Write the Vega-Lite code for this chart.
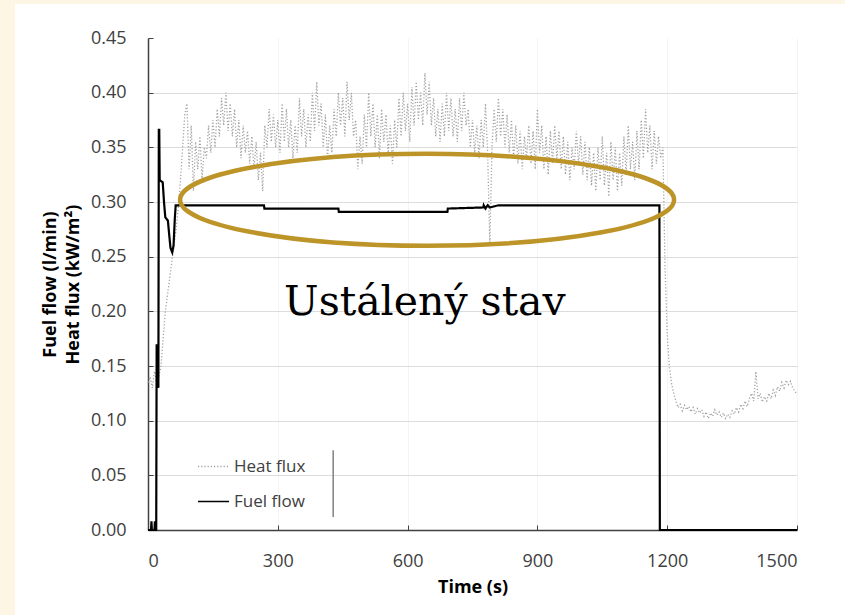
{
  "$schema": "https://vega.github.io/schema/vega-lite/v6.json",
  "width": 649,
  "height": 492,
  "autosize": {"type": "none"},
  "padding": {"left": 148, "top": 38, "right": 48, "bottom": 85},
  "background": "#FFFFFF",
  "config": {
    "view": {"stroke": null},
    "font": "Open Sans",
    "axis": {
      "domainColor": "#404040", "domainWidth": 1.5,
      "tickColor": "#404040", "tickSize": -5, "tickWidth": 1,
      "labelFont": "Open Sans", "labelFontSize": 18, "labelColor": "#404040",
      "titleFont": "Open Sans", "titleFontSize": 18, "titleFontWeight": "bold", "titleColor": "#000000",
      "gridColor": "#d9d9d9", "gridWidth": 1
    },
    "legend": {"orient": "none", "legendX": 49, "legendY": 412, "padding": 0, "labelFont": "Open Sans", "labelFontSize": 17, "labelColor": "#404040",
      "symbolType": "stroke", "symbolSize": 961, "symbolStrokeWidth": 1.6, "labelOffset": 4, "rowPadding": 10, "title": null}
  },
  "datasets": {
    "one": [{"k": 1}],
    "heat": [
      {"t":0,"v":0.135},{"t":5,"v":0.14},{"t":10,"v":0.13},{"t":15,"v":0.145},{"t":20,"v":0.135},{"t":25,"v":0.14},
      {"t":30,"v":0.15},{"t":35,"v":0.175},{"t":40,"v":0.2},{"t":45,"v":0.215},{"t":50,"v":0.23},{"t":55,"v":0.245},
      {"t":60,"v":0.26},{"t":65,"v":0.275},{"t":70,"v":0.295},{"t":75,"v":0.32},{"t":80,"v":0.35},{"t":85,"v":0.38},
      {"t":90,"v":0.39},{"t":95,"v":0.33},{"t":100,"v":0.37},{"t":105,"v":0.31},{"t":110,"v":0.355},{"t":115,"v":0.33},
      {"t":120,"v":0.36},{"t":125,"v":0.32},{"t":130,"v":0.35},{"t":135,"v":0.34},{"t":140,"v":0.37},{"t":145,"v":0.345},
      {"t":150,"v":0.375},{"t":155,"v":0.35},{"t":160,"v":0.385},{"t":165,"v":0.36},{"t":170,"v":0.395},{"t":175,"v":0.37},
      {"t":180,"v":0.4},{"t":185,"v":0.365},{"t":190,"v":0.39},{"t":195,"v":0.36},{"t":200,"v":0.385},{"t":205,"v":0.35},
      {"t":210,"v":0.375},{"t":215,"v":0.34},{"t":220,"v":0.37},{"t":225,"v":0.345},{"t":230,"v":0.365},{"t":235,"v":0.335},
      {"t":240,"v":0.36},{"t":245,"v":0.33},{"t":250,"v":0.355},{"t":255,"v":0.32},{"t":260,"v":0.345},{"t":265,"v":0.31},
      {"t":270,"v":0.37},{"t":275,"v":0.35},{"t":280,"v":0.385},{"t":285,"v":0.355},{"t":290,"v":0.38},{"t":295,"v":0.35},
      {"t":300,"v":0.375},{"t":305,"v":0.345},{"t":310,"v":0.39},{"t":315,"v":0.355},{"t":320,"v":0.385},{"t":325,"v":0.35},
      {"t":330,"v":0.375},{"t":335,"v":0.34},{"t":340,"v":0.37},{"t":345,"v":0.345},{"t":350,"v":0.395},{"t":355,"v":0.36},
      {"t":360,"v":0.385},{"t":365,"v":0.35},{"t":370,"v":0.38},{"t":375,"v":0.355},{"t":380,"v":0.4},{"t":385,"v":0.365},
      {"t":390,"v":0.41},{"t":395,"v":0.37},{"t":400,"v":0.39},{"t":405,"v":0.35},{"t":410,"v":0.38},{"t":415,"v":0.34},
      {"t":420,"v":0.37},{"t":425,"v":0.345},{"t":430,"v":0.385},{"t":435,"v":0.36},{"t":440,"v":0.4},{"t":445,"v":0.37},
      {"t":450,"v":0.395},{"t":455,"v":0.36},{"t":460,"v":0.41},{"t":465,"v":0.375},{"t":470,"v":0.4},{"t":475,"v":0.36},
      {"t":480,"v":0.375},{"t":485,"v":0.33},{"t":490,"v":0.36},{"t":495,"v":0.335},{"t":500,"v":0.38},{"t":505,"v":0.35},
      {"t":510,"v":0.4},{"t":515,"v":0.36},{"t":520,"v":0.39},{"t":525,"v":0.35},{"t":530,"v":0.38},{"t":535,"v":0.34},
      {"t":540,"v":0.385},{"t":545,"v":0.355},{"t":550,"v":0.38},{"t":555,"v":0.345},{"t":560,"v":0.37},{"t":565,"v":0.335},
      {"t":570,"v":0.375},{"t":575,"v":0.35},{"t":580,"v":0.395},{"t":585,"v":0.36},{"t":590,"v":0.4},{"t":595,"v":0.365},
      {"t":600,"v":0.39},{"t":605,"v":0.355},{"t":610,"v":0.405},{"t":615,"v":0.37},{"t":620,"v":0.41},{"t":625,"v":0.375},
      {"t":630,"v":0.4},{"t":635,"v":0.37},{"t":640,"v":0.418},{"t":645,"v":0.38},{"t":650,"v":0.41},{"t":655,"v":0.37},
      {"t":660,"v":0.395},{"t":665,"v":0.36},{"t":670,"v":0.385},{"t":675,"v":0.355},{"t":680,"v":0.39},{"t":685,"v":0.36},
      {"t":690,"v":0.4},{"t":695,"v":0.365},{"t":700,"v":0.395},{"t":705,"v":0.36},{"t":710,"v":0.385},{"t":715,"v":0.355},
      {"t":720,"v":0.395},{"t":725,"v":0.365},{"t":730,"v":0.4},{"t":735,"v":0.37},{"t":740,"v":0.385},{"t":745,"v":0.35},
      {"t":750,"v":0.375},{"t":755,"v":0.345},{"t":760,"v":0.37},{"t":765,"v":0.34},{"t":770,"v":0.375},{"t":775,"v":0.35},
      {"t":780,"v":0.39},{"t":785,"v":0.345},{"t":790,"v":0.26},{"t":795,"v":0.35},{"t":800,"v":0.385},{"t":805,"v":0.355},
      {"t":810,"v":0.395},{"t":815,"v":0.36},{"t":820,"v":0.385},{"t":825,"v":0.35},{"t":830,"v":0.38},{"t":835,"v":0.345},
      {"t":840,"v":0.375},{"t":845,"v":0.34},{"t":850,"v":0.37},{"t":855,"v":0.335},{"t":860,"v":0.365},{"t":865,"v":0.33},
      {"t":870,"v":0.36},{"t":875,"v":0.34},{"t":880,"v":0.37},{"t":885,"v":0.335},{"t":890,"v":0.365},{"t":895,"v":0.33},
      {"t":900,"v":0.385},{"t":905,"v":0.345},{"t":910,"v":0.37},{"t":915,"v":0.33},{"t":920,"v":0.36},{"t":925,"v":0.325},
      {"t":930,"v":0.365},{"t":935,"v":0.335},{"t":940,"v":0.37},{"t":945,"v":0.34},{"t":950,"v":0.365},{"t":955,"v":0.33},
      {"t":960,"v":0.36},{"t":965,"v":0.325},{"t":970,"v":0.355},{"t":975,"v":0.32},{"t":980,"v":0.35},{"t":985,"v":0.33},
      {"t":990,"v":0.365},{"t":995,"v":0.335},{"t":1000,"v":0.36},{"t":1005,"v":0.325},{"t":1010,"v":0.355},{"t":1015,"v":0.32},
      {"t":1020,"v":0.35},{"t":1025,"v":0.315},{"t":1030,"v":0.345},{"t":1035,"v":0.31},{"t":1040,"v":0.35},{"t":1045,"v":0.32},
      {"t":1050,"v":0.36},{"t":1055,"v":0.315},{"t":1060,"v":0.345},{"t":1065,"v":0.305},{"t":1070,"v":0.355},{"t":1075,"v":0.32},
      {"t":1080,"v":0.35},{"t":1085,"v":0.31},{"t":1090,"v":0.345},{"t":1095,"v":0.315},{"t":1100,"v":0.36},{"t":1105,"v":0.325},
      {"t":1110,"v":0.37},{"t":1115,"v":0.33},{"t":1120,"v":0.355},{"t":1125,"v":0.32},{"t":1130,"v":0.365},{"t":1135,"v":0.33},
      {"t":1140,"v":0.375},{"t":1145,"v":0.34},{"t":1150,"v":0.385},{"t":1155,"v":0.345},{"t":1160,"v":0.37},{"t":1165,"v":0.33},
      {"t":1170,"v":0.365},{"t":1175,"v":0.335},{"t":1180,"v":0.36},{"t":1185,"v":0.34},{"t":1190,"v":0.35},{"t":1195,"v":0.24},
      {"t":1200,"v":0.18},{"t":1205,"v":0.15},{"t":1210,"v":0.134},{"t":1215,"v":0.125},{"t":1220,"v":0.118},{"t":1225,"v":0.112},
      {"t":1230,"v":0.115},{"t":1235,"v":0.109},{"t":1240,"v":0.114},{"t":1245,"v":0.11},{"t":1250,"v":0.113},{"t":1255,"v":0.108},
      {"t":1260,"v":0.112},{"t":1265,"v":0.106},{"t":1270,"v":0.111},{"t":1275,"v":0.107},{"t":1280,"v":0.11},{"t":1285,"v":0.104},
      {"t":1290,"v":0.108},{"t":1295,"v":0.102},{"t":1300,"v":0.107},{"t":1305,"v":0.104},{"t":1310,"v":0.11},{"t":1315,"v":0.105},
      {"t":1320,"v":0.108},{"t":1325,"v":0.103},{"t":1330,"v":0.107},{"t":1335,"v":0.102},{"t":1340,"v":0.106},{"t":1345,"v":0.103},
      {"t":1350,"v":0.109},{"t":1355,"v":0.106},{"t":1360,"v":0.112},{"t":1365,"v":0.108},{"t":1370,"v":0.115},{"t":1375,"v":0.111},
      {"t":1380,"v":0.118},{"t":1385,"v":0.113},{"t":1390,"v":0.12},{"t":1395,"v":0.125},{"t":1400,"v":0.118},{"t":1405,"v":0.145},
      {"t":1410,"v":0.12},{"t":1415,"v":0.125},{"t":1420,"v":0.117},{"t":1425,"v":0.122},{"t":1430,"v":0.118},{"t":1435,"v":0.125},
      {"t":1440,"v":0.12},{"t":1445,"v":0.128},{"t":1450,"v":0.123},{"t":1455,"v":0.131},{"t":1460,"v":0.127},{"t":1465,"v":0.135},
      {"t":1470,"v":0.13},{"t":1475,"v":0.137},{"t":1480,"v":0.133},{"t":1485,"v":0.136},{"t":1490,"v":0.13},{"t":1495,"v":0.127},
      {"t":1500,"v":0.124}
    ],
    "fuel": [
      {"t":0,"v":0},{"t":7,"v":0},{"t":8,"v":0.008},{"t":9,"v":0},{"t":15,"v":0},{"t":16,"v":0.008},{"t":17,"v":0},
      {"t":19,"v":0},{"t":20,"v":0.17},{"t":21,"v":0.13},{"t":22,"v":0.165},{"t":23,"v":0.14},{"t":24,"v":0.13},
      {"t":25,"v":0.366},{"t":26,"v":0.366},{"t":27,"v":0.32},{"t":34,"v":0.318},{"t":37,"v":0.3},{"t":40,"v":0.286},
      {"t":46,"v":0.283},{"t":49,"v":0.27},{"t":52,"v":0.258},{"t":56,"v":0.254},{"t":59,"v":0.26},{"t":62,"v":0.285},
      {"t":64,"v":0.297},{"t":268,"v":0.297},{"t":269,"v":0.294},{"t":440,"v":0.294},{"t":441,"v":0.291},{"t":692,"v":0.291},
      {"t":693,"v":0.294},{"t":775,"v":0.295},{"t":776,"v":0.297},{"t":780,"v":0.294},{"t":785,"v":0.297},{"t":790,"v":0.295},
      {"t":800,"v":0.296},{"t":810,"v":0.297},{"t":1182,"v":0.297},{"t":1183,"v":0},{"t":1500,"v":0}
    ]
  },
  "layer": [
    {
      "data": {"name": "one"},
      "mark": {"type": "rect", "fill": "#FDF6E4", "clip": false},
      "encoding": {
        "x": {"datum": -343, "type": "quantitative", "scale": {"domain": [0, 1500], "nice": false, "zero": false}},
        "x2": {"datum": -307.4},
        "y": {"datum": -0.08, "type": "quantitative", "scale": {"domain": [0, 0.45], "nice": false, "zero": false}},
        "y2": {"datum": 0.486}
      }
    },
    {
      "data": {"name": "one"},
      "mark": {"type": "rect", "fill": "#FDF6E4", "clip": false},
      "encoding": {
        "x": {"datum": -343, "type": "quantitative", "scale": {"domain": [0, 1500], "nice": false, "zero": false}},
        "x2": {"datum": 1615},
        "y": {"datum": 0.4811, "type": "quantitative", "scale": {"domain": [0, 0.45], "nice": false, "zero": false}},
        "y2": {"datum": 0.486}
      }
    },
    {
      "data": {"name": "heat"},
      "mark": {"type": "line", "strokeWidth": 1.3, "interpolate": "linear"},
      "encoding": {
        "x": {"field": "t", "type": "quantitative", "scale": {"domain": [0, 1500], "nice": false, "zero": false},
          "axis": {"title": "Time (s)", "grid": true, "values": [0, 300, 600, 900, 1200, 1500], "format": "d", "labelPadding": 27, "titlePadding": 8, "gridColor": "#f4f4f4"}},
        "y": {"field": "v", "type": "quantitative", "scale": {"domain": [0, 0.45], "nice": false, "zero": false},
          "axis": {"title": ["Fuel flow (l/min)", "Heat flux (kW/m²)"], "grid": true, "values": [0, 0.05, 0.1, 0.15, 0.2, 0.25, 0.3, 0.35, 0.4, 0.45], "format": ".2f",
            "labelPadding": 27, "titlePadding": 8, "titleLineHeight": 23,
            "gridColor": {"condition": {"test": "datum.value >= 0.449", "value": "transparent"}, "value": "#dcdcdc"}}},
        "color": {"datum": "Heat flux", "type": "nominal", "scale": {"domain": ["Heat flux", "Fuel flow"], "range": ["#a3a3a3", "#000000"]}, "legend": {"title": null}},
        "strokeDash": {"datum": "Heat flux", "type": "nominal", "scale": {"domain": ["Heat flux", "Fuel flow"], "range": [[1.2, 2], [1, 0]]}, "legend": {"title": null}}
      }
    },
    {
      "data": {"name": "fuel"},
      "mark": {"type": "line", "strokeWidth": 2.2, "interpolate": "linear"},
      "encoding": {
        "x": {"field": "t", "type": "quantitative", "scale": {"domain": [0, 1500], "nice": false, "zero": false}},
        "y": {"field": "v", "type": "quantitative", "scale": {"domain": [0, 0.45], "nice": false, "zero": false}},
        "color": {"datum": "Fuel flow", "type": "nominal", "scale": {"domain": ["Heat flux", "Fuel flow"], "range": ["#a3a3a3", "#000000"]}, "legend": {"title": null}},
        "strokeDash": {"datum": "Fuel flow", "type": "nominal", "scale": {"domain": ["Heat flux", "Fuel flow"], "range": [[1.2, 2], [1, 0]]}, "legend": {"title": null}}
      }
    },
    {
      "data": {"name": "one"},
      "mark": {"type": "rule", "color": "#808080", "strokeWidth": 1.5},
      "encoding": {
        "x": {"datum": 428, "type": "quantitative", "scale": {"domain": [0, 1500], "nice": false, "zero": false}},
        "y": {"datum": 0.012, "type": "quantitative", "scale": {"domain": [0, 0.45], "nice": false, "zero": false}},
        "y2": {"datum": 0.073}
      }
    },
    {
      "data": {"name": "one"},
      "mark": {"type": "point", "shape": "M -1 0 C -1 -0.1027 -0.5523 -0.186 0 -0.186 C 0.5523 -0.186 1 -0.1027 1 0 C 1 0.1027 0.5523 0.186 0 0.186 C -0.5523 0.186 -1 0.1027 -1 0 Z",
        "size": 244036, "filled": false, "stroke": "#BD9428", "strokeWidth": 4.5, "opacity": 1},
      "encoding": {
        "x": {"datum": 645, "type": "quantitative", "scale": {"domain": [0, 1500], "nice": false, "zero": false}},
        "y": {"datum": 0.302, "type": "quantitative", "scale": {"domain": [0, 0.45], "nice": false, "zero": false}}
      }
    },
    {
      "data": {"name": "one"},
      "mark": {"type": "text", "text": "Ustálený stav", "font": "DejaVu Serif", "fontSize": 41, "align": "center", "baseline": "alphabetic", "color": "#000000"},
      "encoding": {
        "x": {"datum": 640, "type": "quantitative", "scale": {"domain": [0, 1500], "nice": false, "zero": false}},
        "y": {"datum": 0.197, "type": "quantitative", "scale": {"domain": [0, 0.45], "nice": false, "zero": false}}
      }
    }
  ]
}
